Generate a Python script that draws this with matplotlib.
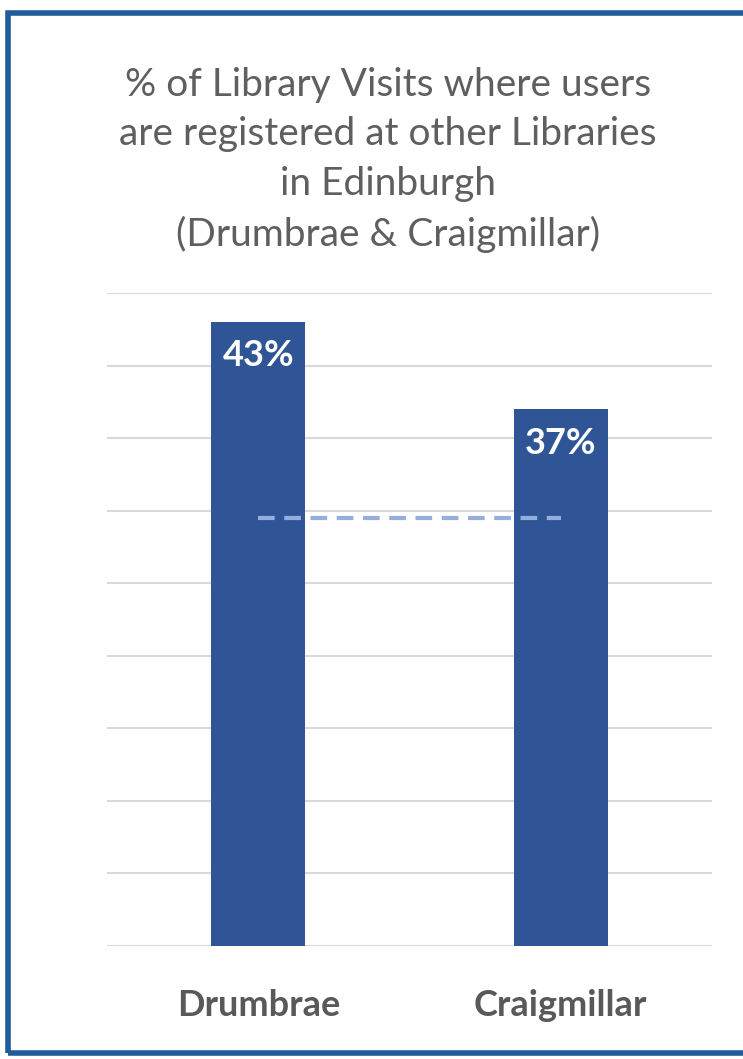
import matplotlib.pyplot as plt
from matplotlib.patches import Rectangle

libraries = ["Drumbrae", "Craigmillar"]
pct_registered = [43, 37]
average_pct = 29.5
grid_ticks = [0, 5, 10, 15, 20, 25, 30, 35, 40, 45]

W, H = 743, 1059
fig = plt.figure(figsize=(W / 100, H / 100), dpi=100)
fig.patch.set_facecolor("white")

# axes placed in pixel terms
left, right, bottom, top = 107, 712, 946, 293
ax = fig.add_axes([left / W, 1 - bottom / H, (right - left) / W, (bottom - top) / H])

ax.set_axisbelow(True)
ax.yaxis.grid(True, color="#D9D9D9", linewidth=1.5)
ax.set_yticks(grid_ticks)
ax.set_ylim(0, 45)
ax.set_xlim(-0.5, 1.5)

x = range(len(libraries))
bars = ax.bar(x, pct_registered, width=0.31, color="#2F5597", zorder=2)
for b, v in zip(bars, pct_registered):
    ax.text(b.get_x() + b.get_width() / 2, v - 1.2, f"{v}%", ha="center", va="top",
            color="white", fontsize=26, fontweight="bold", family="Lato", zorder=3)

# average across libraries
ax.plot([0, 1], [average_pct, average_pct], color="#94AEDD", linewidth=3,
        dashes=(4, 2.3), zorder=3)

ax.set_xticks(list(x))
ax.set_xticklabels(libraries, fontsize=26, fontweight="bold", color="#595959", family="Lato")
ax.tick_params(axis="x", length=0, pad=31)
ax.tick_params(axis="y", length=0, labelleft=False)
for s in ax.spines.values():
    s.set_visible(False)

title = "% of Library Visits where users\nare registered at other Libraries\nin Edinburgh\n(Drumbrae & Craigmillar)"
fig.text(388 / W, 1 - 160 / H, title, ha="center", va="center", fontsize=28,
         color="#5F5F5F", family="Lato", linespacing=1.46)

# blue frame round the chart
fig.patches.append(Rectangle((8 / W, 1 - 1053 / H), 760 / W, 1040 / H,
                             transform=fig.transFigure, fill=False,
                             edgecolor="#1F5C99", linewidth=4))

fig.savefig("out.png", dpi=100)
